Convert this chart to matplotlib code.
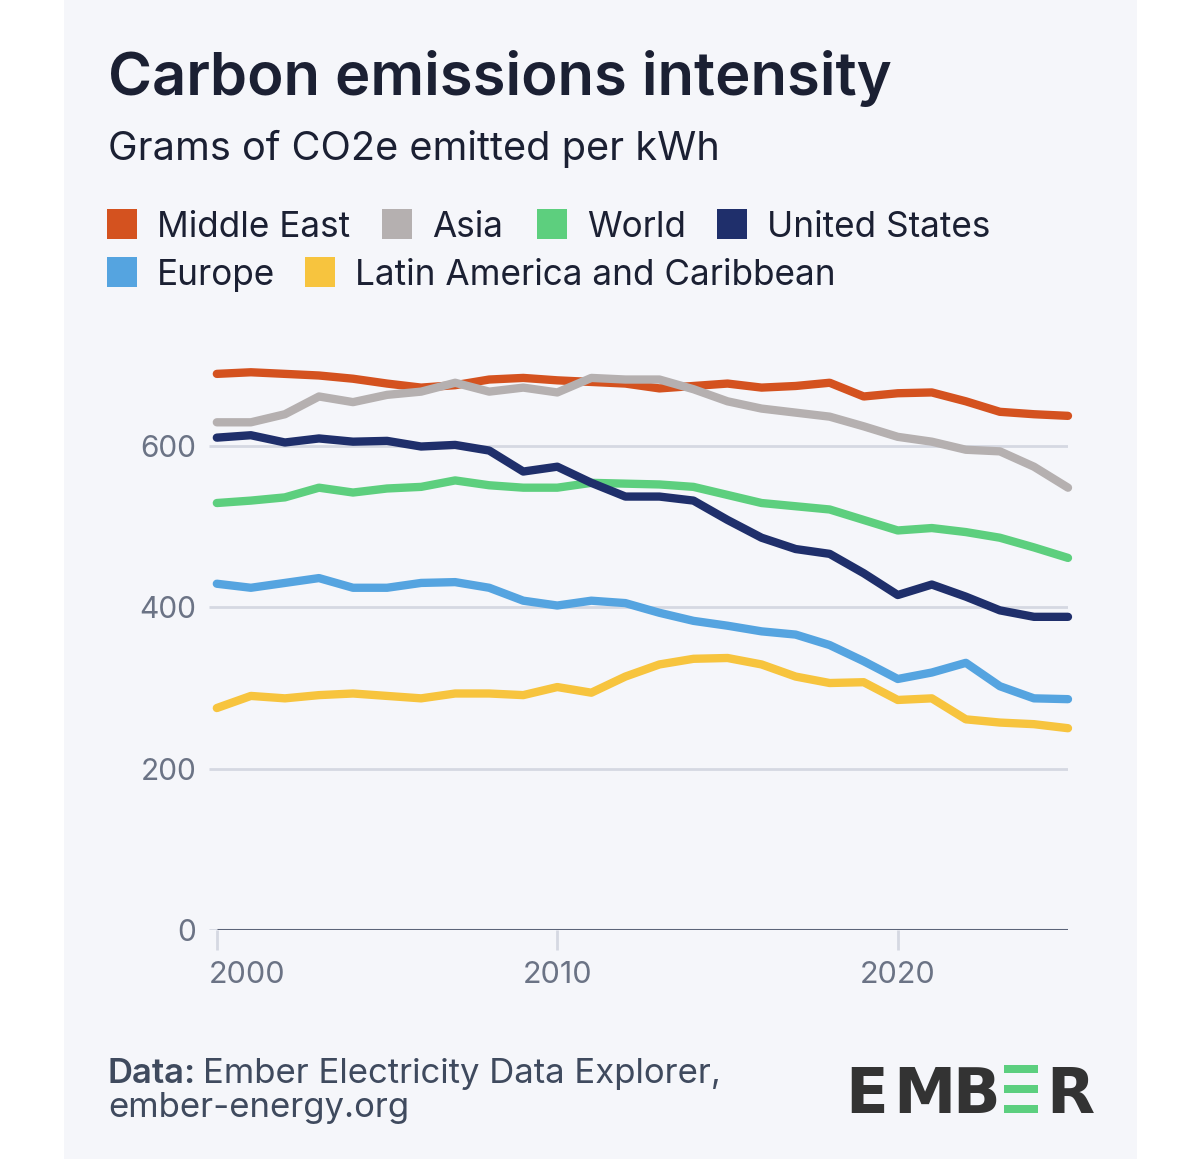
"""Carbon emissions intensity line chart (Ember style)"""

from matplotlib import pyplot as plt
from matplotlib.patches import Rectangle

W, H = 1200, 1159

years = [2000, 2001, 2002, 2003, 2004, 2005, 2006, 2007, 2008, 2009,
         2010, 2011, 2012, 2013, 2014, 2015, 2016, 2017, 2018, 2019,
         2020, 2021, 2022, 2023, 2024, 2025]

middle_east = [689, 691, 689, 687, 683, 677, 672, 675, 682, 684,
               681, 679, 677, 671, 674, 677, 672, 674, 678, 661,
               665, 666, 655, 642, 639, 637]
asia = [629, 629, 639, 661, 654, 663, 667, 678, 667, 672,
        666, 684, 682, 682, 670, 655, 646, 641, 636, 624,
        611, 605, 595, 593, 574, 548]
world = [529, 532, 536, 548, 542, 547, 549, 557, 551, 548,
         548, 554, 553, 552, 549, 539, 529, 525, 521, 508,
         495, 498, 493, 486, 474, 461]
united_states = [610, 613, 604, 609, 605, 606, 599, 601, 594, 568,
                 574, 554, 537, 537, 532, 508, 486, 472, 466, 442,
                 415, 428, 413, 396, 388, 388]
europe = [429, 424, 430, 436, 424, 424, 430, 431, 424, 408,
          402, 408, 405, 393, 383, 377, 370, 366, 353, 333,
          311, 319, 331, 302, 287, 286]
latin_america = [275, 290, 287, 291, 293, 290, 287, 293, 293, 291,
                 301, 294, 314, 329, 336, 337, 329, 314, 306, 307,
                 285, 287, 261, 257, 255, 250]

series_names = ['Middle East', 'Asia', 'World', 'United States',
                'Europe', 'Latin America and Caribbean']
series_values = [middle_east, asia, world, united_states, europe, latin_america]
series_colors = ['#d4521f', '#b5b0b0', '#5dcf7e', '#1f2f6b', '#55a4e0', '#f7c43e']

y_ticks = [0, 200, 400, 600]
x_ticks = [2000, 2010, 2020]

FONT = 'Inter'
DARK = '#1b2033'
GREY = '#6b7385'


def px(x, y):
    """pixel coords (top-left origin) -> figure fraction"""
    return x / W, 1 - y / H


fig = plt.figure(figsize=(W / 100, H / 100), dpi=100)
fig.patch.set_facecolor('white')
fig.patches.append(Rectangle((64 / W, 0), (1137 - 64) / W, 1,
                             transform=fig.transFigure,
                             facecolor='#f5f6fa', edgecolor='none', zorder=-5))

# titles
fig.text(*px(108, 95), 'Carbon emissions intensity', family=FONT,
         fontsize=43, fontweight='semibold', color=DARK, va='baseline')
fig.text(*px(108, 160), 'Grams of CO2e emitted per kWh', family=FONT,
         fontsize=28.6, color=DARK, va='baseline')

# legend
legend_pos = [(107, 224), (382, 224), (537, 224), (717, 224),
              (107, 272), (305, 272)]
for (lx, ly), name, col in zip(legend_pos, series_names, series_colors):
    fig.patches.append(Rectangle(px(lx, ly + 15), 30 / W, 30 / H,
                                 transform=fig.transFigure,
                                 facecolor=col, edgecolor='none'))
    fig.text(*px(lx + 50, ly), name, family=FONT, fontsize=25.3,
             color=DARK, va='center_baseline')

# axes
ax = fig.add_axes([209 / W, 1 - 930 / H, (1068 - 209) / W, (930 - 365) / H])
ax.set_facecolor('none')
ax.set_xlim(1999.77, 2025)
ax.set_ylim(0, 700)
for s in ax.spines.values():
    s.set_visible(False)
ax.set_xticks([])
ax.set_yticks([])

for yt in y_ticks:
    ax.hlines(yt, 1999.77, 2025, color='#d5d8e2', lw=2, zorder=1)
    ax.text(1999.4, yt, str(yt), family=FONT, fontsize=21.5, color=GREY,
            ha='right', va='center_baseline')
ax.hlines(0, 2000, 2025, color='#5b6478', lw=2.2, zorder=2)

for i, xt in enumerate(x_ticks):
    ax.vlines(xt, -25, 0, color='#d5d8e2', lw=2, clip_on=False)
    ax.text(xt - 0.23 if i == 0 else xt, -52, str(xt), family=FONT,
            fontsize=22, color=GREY, ha='left' if i == 0 else 'center',
            va='center_baseline')

for vals, col in zip(series_values, series_colors):
    ax.plot(years, vals, color=col, lw=6, solid_capstyle='round',
            solid_joinstyle='round', clip_on=False, zorder=3)

# footer
r = fig.canvas.get_renderer()
t = fig.text(*px(108, 1083), 'Data:', family=FONT, fontsize=25,
             fontweight='semibold', color='#3f4a5e', va='baseline')
bw = t.get_window_extent(r).width
fig.text(*px(108 + bw + 7, 1083), 'Ember Electricity Data Explorer,',
         family=FONT, fontsize=25, color='#3f4a5e', va='baseline')
fig.text(*px(108, 1117), 'ember-energy.org', family=FONT, fontsize=25,
         color='#3f4a5e', va='baseline')

# logo
for letter, lx in [('E', 845), ('M', 893), ('B', 952), ('R', 1046)]:
    fig.text(*px(lx, 1113), letter, family='DejaVu Sans', fontsize=45,
             fontweight='bold', color='#333333', va='baseline')
for by in [1065, 1085, 1105]:
    fig.patches.append(Rectangle(px(1004, by + 8), 34 / W, 8 / H,
                                 transform=fig.transFigure,
                                 facecolor='#5ccf7f', edgecolor='none'))

fig.savefig('out.png', dpi=100)
